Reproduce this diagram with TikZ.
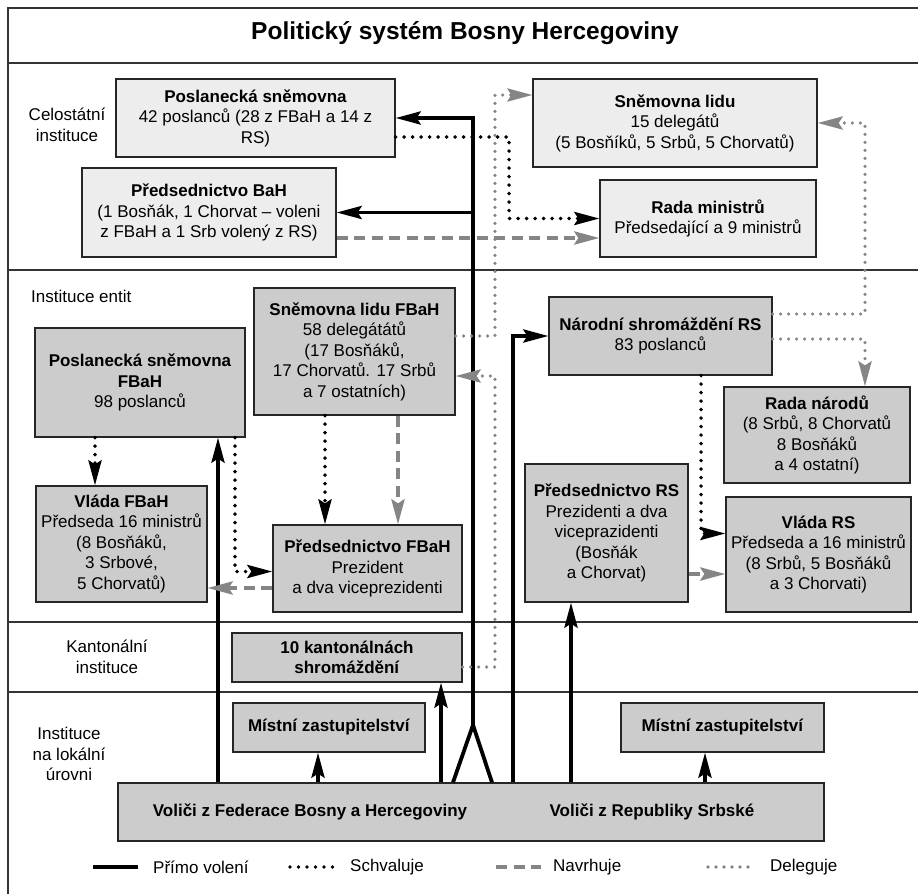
\documentclass[tikz,border=0pt]{standalone}
\usepackage{fontspec}
\setmainfont{Liberation Sans}
\usetikzlibrary{arrows.meta}

\begin{document}
\begin{tikzpicture}[x=1pt, y=-1pt, font=\fontsize{17}{20.5}\selectfont,
	box/.style={draw=black!85, line width=1.2pt, inner sep=0pt, align=center},
	lite/.style={box, fill=black!7},
	dark/.style={box, fill=black!20},
	txt/.style={inner sep=0pt, align=center},
	headtip/.style={-{Stealth[length=25pt, width=13pt, inset=4pt]}},
	volba/.style={line width=3.8pt, headtip},
	schval/.style={line width=3.8pt, dash pattern=on 0pt off 8.5pt, line cap=round, headtip},
	navrh/.style={black!48, line width=4pt, dash pattern=on 11pt off 6.5pt, headtip},
	deleg/.style={black!48, line width=3.6pt, dash pattern=on 0pt off 8pt, line cap=round, headtip},
	sekce/.style={black!80, line width=1.3pt}]

	\useasboundingbox (0,0) rectangle (918,894);

	% frame and rows
	\draw[sekce] (918,8) -- (8,8) -- (8,894);
	\foreach \y in {63,270,622,692}
		\draw[sekce] (8,\y) -- (918,\y);

	\node[txt, font=\fontsize{24.5}{29}\selectfont\bfseries] (title) at (465,33) {Politický systém Bosny Hercegoviny};

	\node[txt] (lbCel) at (67,125) {Celostátní\\instituce};
	\node[txt, anchor=west] (lbEnt) at (31,296) {Instituce entit};
	\node[txt] (lbKan) at (107,657) {Kantonální\\instituce};
	\node[txt] (lbLok) at (69,754) {Instituce\\na lokální\\úrovni};

	% state level
	\node[lite, minimum width=279pt, minimum height=78pt] (posSn) at (255.5,118) {\textbf{Poslanecká sněmovna}\\42 poslanců (28 z FBaH a 14 z\\RS)};
	\node[lite, minimum width=254pt, minimum height=89pt] (predBaH) at (209,212.5) {\textbf{Předsednictvo BaH}\\(1 Bosňák, 1 Chorvat – voleni\\z FBaH a 1 Srb volený z RS)};
	\node[lite, minimum width=284pt, minimum height=88pt] (snLidu) at (675,123) {\textbf{Sněmovna lidu}\\15 delegátů\\(5 Bosňíků, 5 Srbů, 5 Chorvatů)};
	\node[lite, minimum width=216pt, minimum height=77pt] (radaMin) at (708,218.5) {\textbf{Rada ministrů}\\Předsedající a 9 ministrů};

	% entities
	\node[dark, minimum width=201pt, minimum height=127pt] (slFB) at (354.5,351.5) {\textbf{Sněmovna lidu FBaH}\\58 delegátátů\\(17 Bosňáků,\\17 Chorvatů. 17 Srbů\\a 7 ostatních)};
	\node[dark, minimum width=210pt, minimum height=109pt] (psFB) at (140,382.5) {\textbf{Poslanecká sněmovna}\\\textbf{FBaH}\\98 poslanců};
	\node[dark, minimum width=171pt, minimum height=116pt] (vladaFB) at (121.5,544) {\textbf{Vláda FBaH}\\Předseda 16 ministrů\\(8 Bosňáků,\\3 Srbové,\\5 Chorvatů)};
	\node[dark, minimum width=189pt, minimum height=87pt] (predFB) at (367.5,568.5) {\textbf{Předsednictvo FBaH}\\Prezident\\a dva viceprezidenti};
	\node[dark, minimum width=223pt, minimum height=78pt] (nsRS) at (660.5,336) {\textbf{Národní shromáždění RS}\\83 poslanců};
	\node[dark, minimum width=186pt, minimum height=96pt] (radaNar) at (817,435) {\textbf{Rada národů}\\(8 Srbů, 8 Chorvatů\\8 Bosňáků\\a 4 ostatní)};
	\node[dark, minimum width=163pt, minimum height=138pt] (predRS) at (606.5,533) {\textbf{Předsednictvo RS}\\Prezidenti a dva\\viceprazidenti\\(Bosňák\\a Chorvat)};
	\node[dark, minimum width=185pt, minimum height=115pt] (vladaRS) at (818.5,554.5) {\textbf{Vláda RS}\\Předseda a 16 ministrů\\(8 Srbů, 5 Bosňáků\\a 3 Chorvati)};

	% cantons, local, voters
	\node[dark, minimum width=230pt, minimum height=49pt] (kanton) at (347,657.5) {\textbf{10 kantonálnách}\\\textbf{shromáždění}};
	\node[dark, minimum width=192pt, minimum height=49pt] (mzFB) at (329,727.5) {\textbf{Místní zastupitelství}};
	\node[dark, minimum width=203pt, minimum height=49pt] (mzRS) at (722.5,727.5) {\textbf{Místní zastupitelství}};
	\node[dark, minimum width=706pt, minimum height=58pt] (voters) at (471,812) {};
	\node[txt] (volFB) at (310,812) {\textbf{Voliči z Federace Bosny a Hercegoviny}};
	\node[txt] (volRS) at (652,812) {\textbf{Voliči z Republiky Srbské}};

	\coordinate (lnA) at (218,0);
	\coordinate (lnB) at (318,0);
	\coordinate (lnC) at (441,0);
	\coordinate (legL) at (453,0);
	\coordinate (legR) at (492,0);
	\coordinate (apex) at (473,725);
	\coordinate (lnE) at (513,0);
	\coordinate (lnF) at (571,0);
	\coordinate (lnG) at (705,0);
	\coordinate (lnH) at (509,0);
	\coordinate (lnI) at (95,0);
	\coordinate (lnJ) at (235,0);
	\coordinate (lnK) at (325,0);
	\coordinate (lnN) at (398,0);
	\coordinate (lnL) at (701,0);
	\coordinate (lnQ) at (495,0);
	\coordinate (lnS) at (865,0);

	% directly elected
	\draw[volba] (voters.north -| lnA) -- (psFB.south -| lnA);
	\draw[volba] (voters.north -| lnB) -- (mzFB.south -| lnB);
	\draw[volba] (voters.north -| lnC) -- (kanton.south -| lnC);
	\draw[volba, -] (voters.north -| legL) -- (apex) -- (voters.north -| legR);
	\draw[volba] (apex) |- (posSn.east);
	\draw[volba] (apex |- predBaH.east) -- (predBaH.east);
	\draw[volba] (voters.north -| lnE) |- (nsRS.west);
	\draw[volba] (voters.north -| lnF) -- (predRS.south -| lnF);
	\draw[volba] (voters.north -| lnG) -- (mzRS.south -| lnG);

	% approves
	\draw[schval] ([yshift=-19pt]posSn.east) -| (radaMin.west -| lnH) -- (radaMin.west);
	\draw[schval] (psFB.south -| lnI) -- (vladaFB.north -| lnI);
	\draw[schval] (psFB.south -| lnJ) |- ([yshift=-3pt]predFB.west);
	\draw[schval] (slFB.south -| lnK) -- (predFB.north -| lnK);
	\draw[schval] (nsRS.south -| lnL) |- ([yshift=21pt]vladaRS.west);

	% proposes
	\draw[navrh] ([yshift=-25.5pt]predBaH.east) coordinate (m0) -- (radaMin.west |- m0);
	\draw[navrh] (slFB.south -| lnN) -- (predFB.north -| lnN);
	\draw[navrh] ([yshift=-19.5pt]predFB.west) coordinate (o0) -- (vladaFB.east |- o0);
	\draw[navrh] ([yshift=-41pt]predRS.east) coordinate (p0) -- (vladaRS.west |- p0);

	% delegates
	\coordinate (q1) at ([yshift=28pt]snLidu.west);
	\coordinate (r1) at ([yshift=-24.5pt]slFB.east);
	\draw[deleg] ([yshift=15.5pt]slFB.east) -| (q1 -| lnQ) -- (q1);
	\draw[deleg] ([yshift=-9.5pt]kanton.east) -| (r1 -| lnQ) -- (r1);
	\draw[deleg] ([yshift=22pt]nsRS.east) -| (snLidu.east -| lnS) -- (snLidu.east);
	\draw[deleg] ([yshift=-3pt]nsRS.east) -| (radaNar.north -| lnS);

	% legend
	\node[txt, anchor=west] (lgVol) at (153,867) {Přímo volení};
	\node[txt, anchor=west] (lgSch) at (350,867) {Schvaluje};
	\node[txt, anchor=west] (lgNav) at (553,867) {Navrhuje};
	\node[txt, anchor=west] (lgDel) at (770,867) {Deleguje};
	\draw[volba, -, line width=4.2pt] ([xshift=-60pt]lgVol.west) -- ([xshift=-15pt]lgVol.west);
	\draw[schval, -] ([xshift=-60pt]lgSch.west) -- ([xshift=-15pt]lgSch.west);
	\draw[navrh, -] ([xshift=-57pt]lgNav.west) -- ([xshift=-12pt]lgNav.west);
	\draw[deleg, -] ([xshift=-62pt]lgDel.west) -- ([xshift=-17pt]lgDel.west);

\end{tikzpicture}
\end{document}
